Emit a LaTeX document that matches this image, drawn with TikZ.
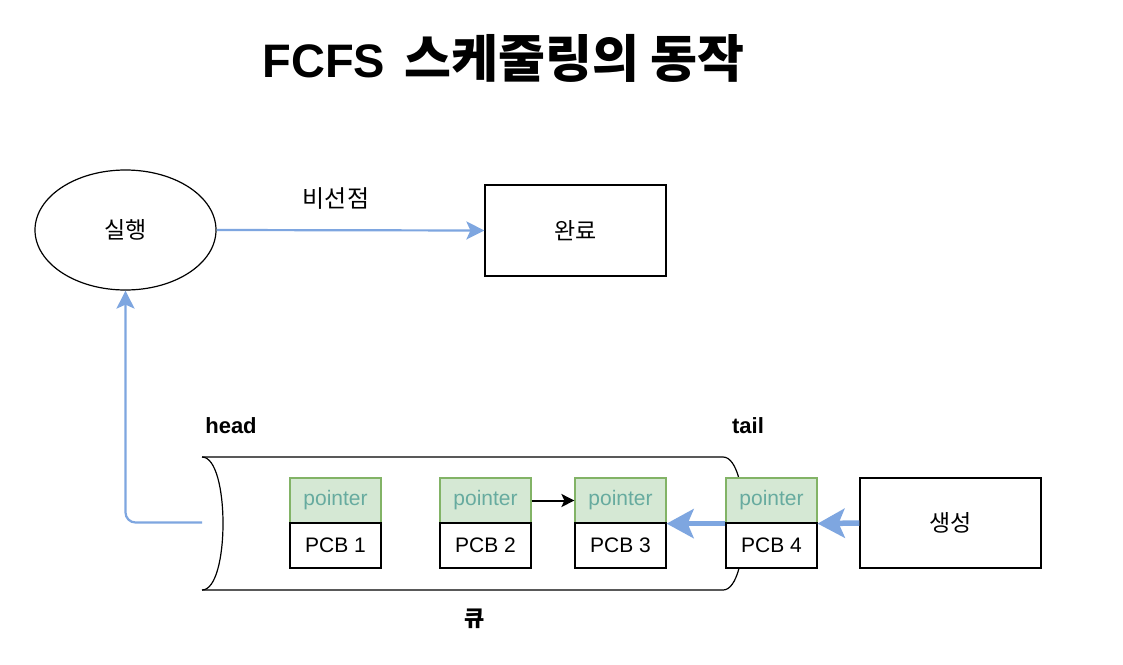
\documentclass[tikz,border=0pt]{standalone}
\usepackage{fontspec}
\setmainfont{Liberation Sans}
\newfontfamily\kr{Noto Sans CJK KR}
\usetikzlibrary{arrows.meta,shapes.geometric}
\definecolor{bluel}{HTML}{7EA6E0}
\definecolor{gfill}{HTML}{D5E8D4}
\definecolor{gdraw}{HTML}{82B366}
\definecolor{gtext}{HTML}{67AB9F}
\tikzset{
  blk/.style={draw=black, line width=1.2pt, fill=white, inner sep=0pt},
  bigbox/.style={blk, minimum width=181pt, minimum height=90pt, font=\kr\fontsize{23}{26}\selectfont},
  ptrbox/.style={draw=gdraw, line width=1.2pt, fill=gfill, inner sep=0pt, minimum width=91pt, minimum height=45pt, text=gtext, font=\fontsize{21}{24}\selectfont},
  pcbbox/.style={blk, minimum width=91pt, minimum height=45pt, font=\fontsize{21}{24}\selectfont},
  thinblue/.style={draw=bluel, line width=2.2pt, -{Stealth[length=18pt,width=18pt,inset=4pt]}},
  thickblue/.style={draw=bluel, line width=5.5pt, -{Stealth[length=27pt,width=29pt,inset=6pt]}},
  blackarr/.style={draw=black, line width=2pt, -{Stealth[length=13pt,width=13pt,inset=3pt]}},
  lbl/.style={font=\bfseries\fontsize{22}{26}\selectfont, inner sep=0pt}
}
\begin{document}
\begin{tikzpicture}[x=1pt,y=-1pt]
\useasboundingbox[fill=white] (0,0) rectangle (1123,664);

% title
\node[anchor=base, inner sep=0pt, font=\bfseries\fontsize{47}{52}\selectfont] (title) at (503.5,77) {FCFS\hspace{6pt} {\kr\fontsize{51}{56}\selectfont 스케줄링의 동작}};

% queue outline
\draw[line width=1.2pt] (202,457) -- (723,457) .. controls (751,457) and (751,590) .. (723,590) -- (202,590);
\draw[line width=1.2pt] (202,457) .. controls (230,457) and (230,590) .. (202,590);
\coordinate (qleft) at (202,522.5);

% top nodes
\node[draw=black, line width=1.2pt, ellipse, minimum width=181pt, minimum height=120pt, inner sep=0pt, font=\kr\fontsize{23}{26}\selectfont] (run) at (125.5,230) {실행};
\node[bigbox, minimum height=91pt] (done) at (575.5,230.5) {완료};
\node[bigbox] (create) at (950.5,523) {생성};

% PCBs
\node[ptrbox] (p1) at (335.5,500.5) {\raisebox{-2pt}{pointer}};
\node[pcbbox] (c1) at (335.5,545.5) {PCB 1};
\node[ptrbox] (p2) at (485.5,500.5) {\raisebox{-2pt}{pointer}};
\node[pcbbox] (c2) at (485.5,545.5) {PCB 2};
\node[ptrbox] (p3) at (620.5,500.5) {\raisebox{-2pt}{pointer}};
\node[pcbbox] (c3) at (620.5,545.5) {PCB 3};
\node[ptrbox] (p4) at (771.5,500.5) {\raisebox{-2pt}{pointer}};
\node[pcbbox] (c4) at (771.5,545.5) {PCB 4};

% labels
\node[lbl, anchor=base] (head) at (231,433) {head};
\node[lbl, anchor=base] (tail) at (748,433) {tail};
\node[inner sep=0pt, font=\kr\bfseries\fontsize{22}{26}\selectfont] (queue) at (475,619) {큐};
\node[inner sep=0pt, font=\kr\fontsize{24}{27}\selectfont] (np) at (336,199) {비선점};

% connectors
\draw[thinblue] (run.east) -- (done.west);
\draw[thinblue, rounded corners=10pt] (qleft) -| (run.south);
\draw[blackarr] (p2.east) -- (p3.west);
\draw[thickblue] (p4.south west) -- (p3.south east);
\draw[thickblue] (create.west) -- (p4.south east);
\end{tikzpicture}
\end{document}
